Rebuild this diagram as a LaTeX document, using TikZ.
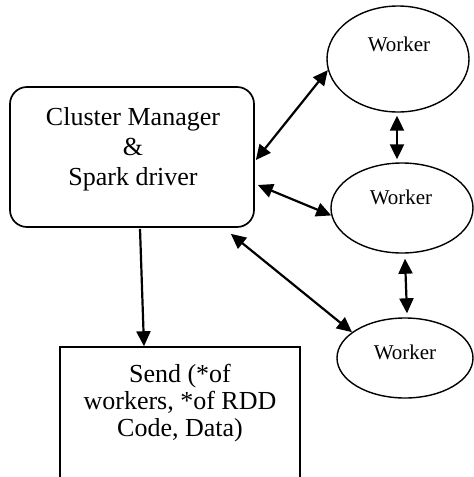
\documentclass[tikz,border=0pt]{standalone}
\usepackage{fontspec}
\setmainfont{Liberation Serif}
\usetikzlibrary{arrows.meta,shapes.geometric,calc}

\begin{document}
\begin{tikzpicture}[x=1pt,y=-1pt,
  mgrbox/.style={draw,line width=1.7pt,rounded corners=17pt,inner sep=0pt,
    minimum width=244pt,minimum height=140pt},
  sendbox/.style={draw,line width=1.5pt,inner sep=0pt,
    minimum width=240pt,minimum height=131pt},
  worker/.style={draw,ellipse,line width=1.4pt,inner sep=0pt},
  bigtext/.style={align=center,inner sep=0pt,font=\fontsize{26}{30}\selectfont},
  smalltext/.style={inner sep=0pt,font=\fontsize{21}{25}\selectfont},
  link/.style={line width=2.2pt,{Triangle[length=15pt,width=14pt]}-{Triangle[length=15pt,width=14pt]}},
  oneway/.style={line width=2.2pt,-{Triangle[length=15pt,width=14pt]}}]
\useasboundingbox (0,0) rectangle (474,477);

% driver box and its label
\node[mgrbox] (cm) at (132,157) {};
\node[bigtext] (cmtext) at (133,149) {Cluster Manager\\\&\\Spark driver};

% box that receives the job description
\node[sendbox] (send) at (180,412.5) {};
\node[bigtext,font=\fontsize{26}{27}\selectfont] (sendtext) at (180,403) {Send (*of\\workers, *of RDD\\Code, Data)};

% worker nodes
\node[worker,minimum width=142pt,minimum height=106pt] (w1) at (398,59) {};
\node[worker,minimum width=142pt,minimum height=90pt] (w2) at (402,208) {};
\node[worker,minimum width=136pt,minimum height=80pt] (w3) at (405,358) {};
\node[smalltext] (w1t) at (399,44) {Worker};
\node[smalltext] (w2t) at (401,197) {Worker};
\node[smalltext] (w3t) at (405,352) {Worker};

% connectors
\draw[link] ($(cm.east)+(1,3)$) -- (w1.189);
\draw[link] ($(cm.east)+(3,28)$) -- (w2.186);
\draw[link] ($(cm.south east)+(-24,6)$) -- (w3.154);
\draw[link] ([shift={(-1,3)}]w1.south) -- ([shift={(-1,-3)}]w1.south |- w2.north);
\draw[link] ($(w2.south)+(3,5)$) -- ($(w3.north)+(2,-4)$);
\draw[oneway] ($(cm.south)+(8,1)$) -- ($(send.north)+(-36,0)$);
\end{tikzpicture}
\end{document}
